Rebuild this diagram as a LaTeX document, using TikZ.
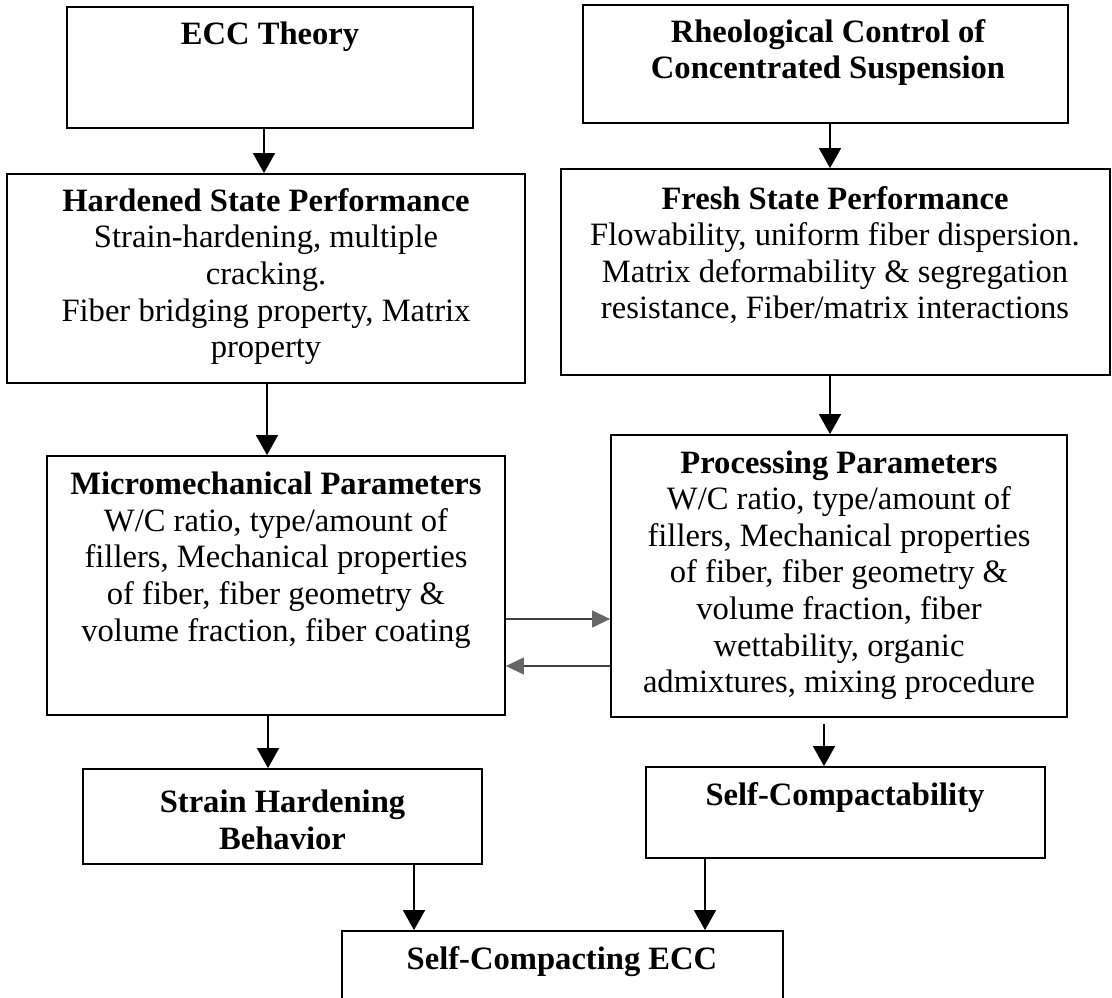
\documentclass[tikz,border=0pt]{standalone}
\usepackage{fontspec}
\setmainfont{Liberation Serif}
\usetikzlibrary{arrows.meta}
\tikzset{
  box/.style={draw=black, line width=1.8pt, inner sep=0pt},
  txt/.style={align=center, inner sep=0pt, font=\fontsize{32.6}{36.6}\selectfont},
  arr/.style={line width=1.6pt, -{Triangle[length=20pt,width=22pt]}},
  harr/.style={draw=black!75, line width=1.2pt, -{Triangle[length=18pt,width=17pt,color=black!60]}},
}
\begin{document}
\begin{tikzpicture}[x=1pt,y=-1pt]
\useasboundingbox (0,0) rectangle (1112,997);
\clip (0,0) rectangle (1112,997);
% boxes
\node[box, minimum width=406pt, minimum height=121pt] (ecc)    at (270,67.5) {};
\node[box, minimum width=485pt, minimum height=118pt] (rheol)  at (825.5,64) {};
\node[box, minimum width=518pt, minimum height=209pt] (hard)   at (266,278.5) {};
\node[box, minimum width=549pt, minimum height=206pt] (fresh)  at (835.5,272) {};
\node[box, minimum width=458pt, minimum height=259pt] (micro)  at (276,585.5) {};
\node[box, minimum width=456pt, minimum height=282pt] (proc)   at (839,576) {};
\node[box, minimum width=399pt, minimum height=95pt]  (strain) at (282.5,816.5) {};
\node[box, minimum width=399pt, minimum height=91pt]  (selfc)  at (845.5,812.5) {};
\node[box, minimum width=441pt, minimum height=74pt]  (scecc)  at (562.5,968) {};
% texts
\node[txt] (eccT) at (270,37) {\bfseries ECC Theory};
\node[txt] (rheolT) at (828,52.5) {\bfseries Rheological Control of\\\bfseries Concentrated Suspension};
\node[txt] (hardT) at (266,276.5) {{\bfseries Hardened State Performance}\\Strain-hardening, multiple\\cracking.\\Fiber bridging property, Matrix\\property};
\node[txt] (freshT) at (835,255) {{\bfseries Fresh State Performance}\\Flowability, uniform fiber dispersion.\\Matrix deformability \& segregation\\resistance, Fiber/matrix interactions};
\node[txt] (microT) at (276,560) {{\bfseries Micromechanical Parameters}\\W/C ratio, type/amount of\\fillers, Mechanical properties\\of fiber, fiber geometry \&\\volume fraction, fiber coating};
\node[txt] (procT) at (839,575) {{\bfseries Processing Parameters}\\W/C ratio, type/amount of\\fillers, Mechanical properties\\of fiber, fiber geometry \&\\volume fraction, fiber\\wettability, organic\\admixtures, mixing procedure};
\node[txt] (strainT) at (282.5,820) {\bfseries Strain Hardening\\\bfseries Behavior};
\node[txt] (selfcT) at (845,798) {\bfseries Self-Compactability};
\node[txt] (sceccT) at (562,962) {\bfseries Self-Compacting ECC};
% vertical arrows
\draw[arr] ([xshift=-6pt]ecc.south) -- ([xshift=-6pt]ecc.south |- hard.north);
\draw[arr] ([xshift=4.5pt]rheol.south) -- ([xshift=4.5pt]rheol.south |- fresh.north);
\draw[arr] ([xshift=1pt]hard.south) -- ([xshift=1pt]hard.south |- micro.north);
\draw[arr] ([xshift=-5.5pt]fresh.south) -- ([xshift=-5.5pt]fresh.south |- proc.north);
\draw[arr] ([xshift=-8pt]micro.south) -- ([xshift=-8pt]micro.south |- strain.north);
\draw[arr] ([xshift=-15pt,yshift=-6pt]proc.south) -- ([xshift=-15pt]proc.south |- selfc.north);
\draw[arr] ([xshift=131.5pt]strain.south) -- ([xshift=131.5pt]strain.south |- scecc.north);
\draw[arr] ([xshift=-140.5pt]selfc.south) -- ([xshift=-140.5pt]selfc.south |- scecc.north);
% horizontal arrows
\draw[harr] ([yshift=-33.5pt]micro.east) -- ([yshift=-33.5pt]micro.east -| proc.west);
\draw[harr] ([yshift=-90pt]proc.west) -- ([yshift=-90pt]proc.west -| micro.east);
\end{tikzpicture}
\end{document}
